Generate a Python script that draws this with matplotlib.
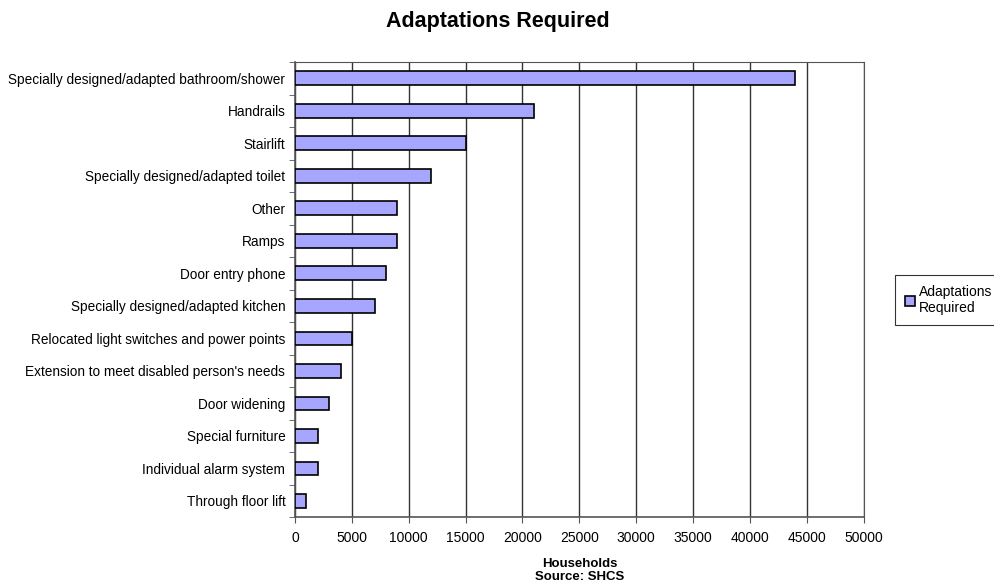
import matplotlib
matplotlib.use("Agg")
import matplotlib.pyplot as plt
import numpy as np

plt.rcParams['font.family'] = ['Liberation Sans', 'DejaVu Sans']

categories = [
    "Specially designed/adapted bathroom/shower",
    "Handrails",
    "Stairlift",
    "Specially designed/adapted toilet",
    "Other",
    "Ramps",
    "Door entry phone",
    "Specially designed/adapted kitchen",
    "Relocated light switches and power points",
    "Extension to meet disabled person's needs",
    "Door widening",
    "Special furniture",
    "Individual alarm system",
    "Through floor lift",
]
values = [44000, 21000, 15000, 12000, 9000, 9000, 8000, 7000, 5000, 4000, 3000, 2000, 2000, 1000]
xticks = [0, 5000, 10000, 15000, 20000, 25000, 30000, 35000, 40000, 45000, 50000]

fig = plt.figure(figsize=(9.95, 5.85), dpi=100)
ax = fig.add_axes([0.2965, 0.116, 0.5715, 0.778])

n = len(categories)
y = np.arange(n)[::-1]
ax.barh(y, values, height=0.42, color='#a6a6ff', edgecolor='black', linewidth=1.2, zorder=3,
        label='Adaptations\nRequired')

ax.set_xlim(0, 50000)
ax.set_ylim(-0.5, n - 0.5)
ax.set_xticks(xticks)
ax.set_xticklabels([str(v) for v in xticks], fontsize=10)
ax.set_yticks(y)
ax.set_yticklabels(categories, fontsize=9.8)
ax.tick_params(axis='y', length=0, pad=7)
ax.set_yticks(np.arange(-0.5, n, 1.0), minor=True)
ax.tick_params(axis='y', which='minor', length=4, direction='out', color='#555555')
ax.tick_params(axis='x', length=4, direction='out', color='#555555', pad=6)
ax.xaxis.grid(True, color='#333333', linewidth=1.0, zorder=0)
for s in ['top', 'right']:
    ax.spines[s].set_color('#555555')
for s in ['left', 'bottom']:
    ax.spines[s].set_color('#555555')
    ax.spines[s].set_linewidth(1.2)

ax.set_xlabel("Households\nSource: SHCS", fontsize=9.5, fontweight='bold', labelpad=9)
fig.text(0.5, 0.963, "Adaptations Required", ha='center', va='center', fontsize=15.5, fontweight='bold')

leg = fig.legend(loc='center left', bbox_to_anchor=(0.893, 0.487), fontsize=10, frameon=True,
                 fancybox=False, edgecolor='black', handlelength=0.7, handleheight=0.7,
                 handletextpad=0.3, borderpad=0.7)
leg.get_frame().set_linewidth(0.8)

fig.savefig("out.png", dpi=100)
